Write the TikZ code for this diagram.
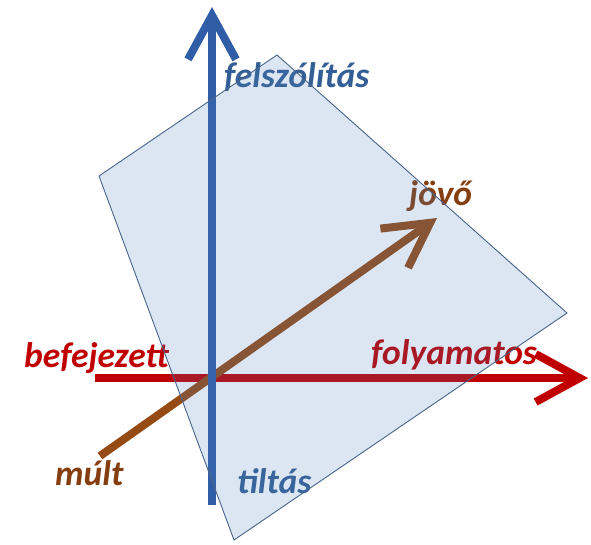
\documentclass[tikz,border=0pt]{standalone}
\usepackage{fontspec}
\setmainfont{Carlito}
\usetikzlibrary{arrows.meta}
\definecolor{modblue}{RGB}{47,93,166}
\definecolor{modbluetext}{RGB}{52,94,150}
\definecolor{timered}{RGB}{192,0,0}
\definecolor{timebrown}{RGB}{150,74,20}
\definecolor{timebrowntext}{RGB}{133,62,16}
\definecolor{planefill}{RGB}{79,129,189}
\definecolor{planeline}{RGB}{72,100,138}
\tikzset{
  axisline/.style={line width=8pt,-{Straight Barb[length=44pt,width=48pt]}},
  lbl/.style={font=\fontsize{35.5}{40}\selectfont\bfseries\itshape,inner sep=0pt,anchor=base west},
  plane/.style={draw=planeline,line width=0.9pt,fill=planefill,fill opacity=0.2},
}

\begin{document}
\begin{tikzpicture}[x=1pt,y=-1pt]
  \useasboundingbox (0,0) rectangle (591,544);
  % axis end points
  \coordinate (tiltv) at (212,505);
  \coordinate (felszv) at (212,7);
  \coordinate (befv) at (95,378);
  \coordinate (folyv) at (588,378);
  \coordinate (multv) at (100,456);
  \coordinate (jovov) at (437,218);
  \draw[axisline,timered] (befv) -- (folyv);
  \draw[axisline,timebrown] (multv) -- (jovov);
  \draw[axisline,modblue] (tiltv) -- (felszv);
  % labels
  \node[lbl,text=modbluetext] (felszolitas) at (224,87) {felszólítás};
  \node[lbl,text=modbluetext] (tiltas) at (237,493) {tiltás};
  \node[lbl,text=timered] (befejezett) at (24,367) {befejezett};
  \node[lbl,text=timered] (folyamatos) at (371,364) {folyamatos};
  \node[lbl,text=timebrowntext] (mult) at (55,485) {múlt};
  \node[lbl,text=timebrowntext] (jovo) at (409,205) {jövő};
  % the plane
  \coordinate (ptop) at (277,55);
  \coordinate (pright) at (567,313);
  \coordinate (pbottom) at (234,540);
  \coordinate (pleft) at (99,176);
  \draw[plane] (ptop) -- (pright) -- (pbottom) -- (pleft) -- cycle;
\end{tikzpicture}
\end{document}
